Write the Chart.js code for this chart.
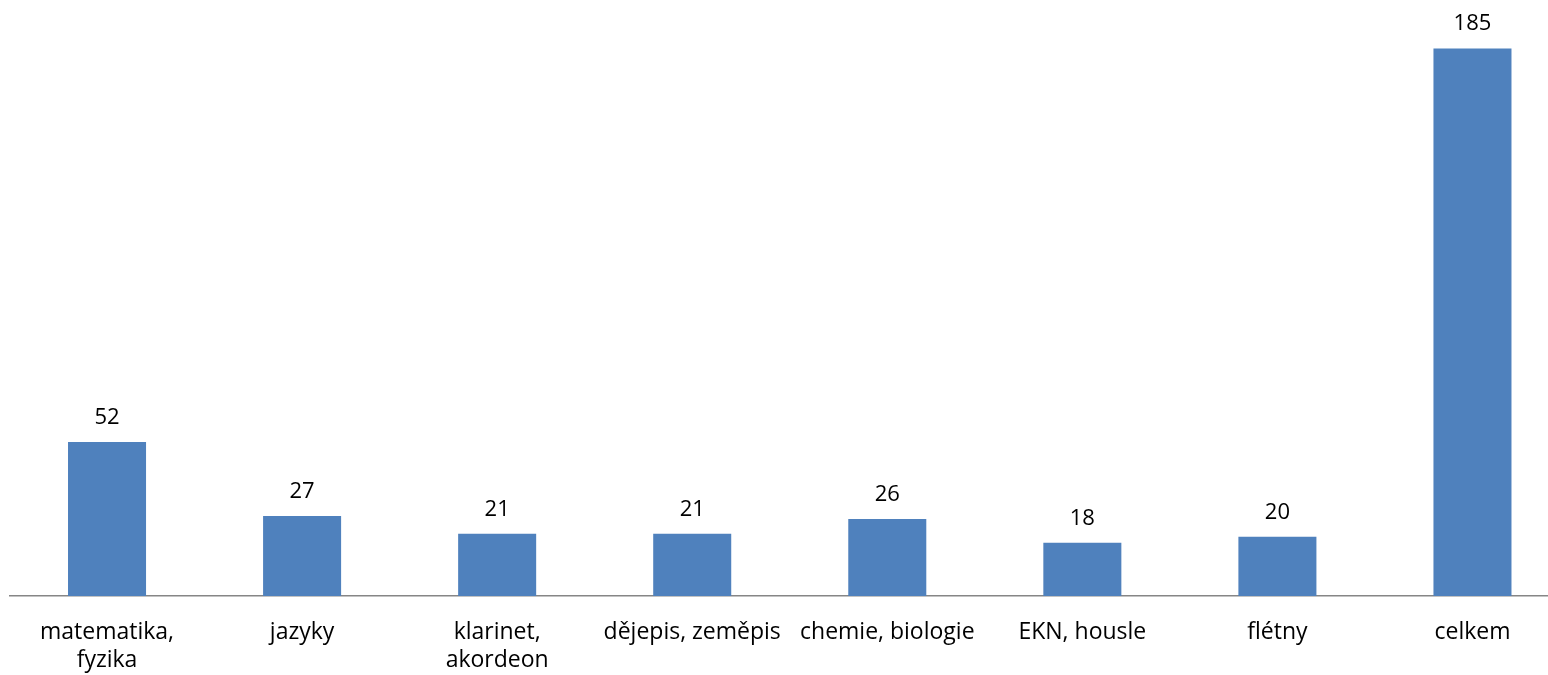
<!DOCTYPE html>
<html><head><meta charset="utf-8">
<script src="https://cdn.jsdelivr.net/npm/chart.js@4"></script>
<style>
html,body{margin:0;padding:0;background:#fff;overflow:hidden;width:1548px;height:675px;}
#wrap{position:absolute;left:0;top:0;width:1570px;height:675px;}
</style></head><body>
<div id="wrap"><canvas id="c" width="1570" height="675"></canvas></div>
<script>
const categories = [["matematika,","fyzika"],"jazyky",["klarinet,","akordeon"],"dějepis, zeměpis","chemie, biologie","EKN, housle","flétny","celkem"];
const values = [52,27,21,21,26,18,20,185];
const yMax = 200;

const FONT = "'Open Sans', Lato, sans-serif";

const valueLabels = {
  id:'valueLabels',
  afterDatasetsDraw(chart){
    const ctx = chart.ctx;
    const meta = chart.getDatasetMeta(0);
    ctx.save();
    ctx.font = "22px " + FONT;
    ctx.fillStyle = '#000';
    ctx.textAlign = 'center';
    ctx.textBaseline = 'alphabetic';
    meta.data.forEach((el,i)=>{
      ctx.fillText(String(values[i]), el.x, el.y - 18);
    });
    ctx.restore();
  }
};

new Chart(document.getElementById('c'), {
  type:'bar',
  data:{labels:categories, datasets:[{data:values, backgroundColor:'#4F81BD', barPercentage:0.4, categoryPercentage:1.0}]},
  options:{
    responsive:false, animation:false,
    layout:{padding:{left:9.5,right:0,top:4,bottom:0}},
    plugins:{legend:{display:false}, tooltip:{enabled:false}},
    scales:{
      x:{
        grid:{display:false, drawTicks:false},
        border:{display:true, color:'#868686', width:1.5},
        ticks:{color:'#000', font:{family:FONT, size:23, lineHeight:1.22}, padding:22, maxRotation:0, autoSkip:false},
        afterFit(s){ s.height = 79; }
      },
      y:{display:false, min:0, max:yMax}
    }
  },
  plugins:[valueLabels]
});
</script>
</body></html>
